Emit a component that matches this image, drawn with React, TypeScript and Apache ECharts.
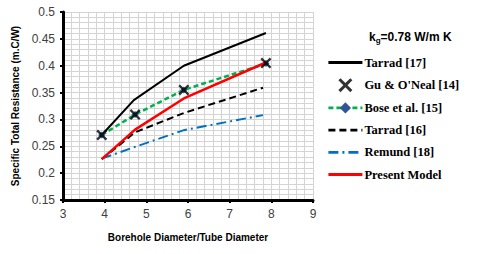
import React, { useEffect, useRef } from "react";
import * as echarts from "echarts";

const xMain = [3.93, 4.73, 5.9, 7.87];
const xTarrad17 = [3.93, 4.7, 5.9, 7.87];
const xShort = [3.93, 4.73, 5.9, 7.8];

const tarrad17 = [0.271, 0.336, 0.4, 0.461];
const guONeal = [0.271, 0.309, 0.355, 0.405];
const bose = [0.271, 0.309, 0.355, 0.404];
const tarrad16 = [0.226, 0.276, 0.312, 0.359];
const remund = [0.227, 0.249, 0.28, 0.308];
const present = [0.226, 0.281, 0.339, 0.406];

const names = ["Tarrad [17]", "Gu & O'Neal [14]", "Bose et al. [15]", "Tarrad [16]", "Remund [18]", "Present Model"];

const pair = (xs: number[], ys: number[]) => xs.map((x, i) => [x, ys[i]]);

const X_PATH =
  "path://M0,1.5L1.5,0L5,3.5L8.5,0L10,1.5L6.5,5L10,8.5L8.5,10L5,6.5L1.5,10L0,8.5L3.5,5Z";

export default function App() {
  const ref = useRef<HTMLDivElement>(null);
  useEffect(() => {
    document.body.style.margin = "0";
    const chart = echarts.init(ref.current!, null, { renderer: "svg" });
    const gridColor = "#d4d4d4";
    const hideSym = { opacity: 0 };
    chart.setOption({
      animation: false,
      backgroundColor: "#ffffff",
      title: {
        text: "k{sub|g}=0.78 W/m K",
        left: 364,
        top: 25,
        textStyle: {
          fontFamily: "Liberation Sans",
          fontWeight: "bold",
          fontSize: 12,
          color: "#000",
          rich: {
            sub: { fontSize: 8, fontWeight: "bold", fontFamily: "Liberation Sans", verticalAlign: "bottom", padding: [6, 0, 0, 0] },
          },
        },
      },
      legend: {
        orient: "vertical",
        left: 327,
        top: 56,
        padding: 0,
        itemWidth: 34,
        itemHeight: 14,
        itemGap: 9.2,
        lineStyle: { width: 2.8 },
        data: [
          { name: names[0], itemStyle: hideSym },
          { name: names[1] },
          { name: names[2] },
          { name: names[3], itemStyle: hideSym },
          { name: names[4], itemStyle: hideSym },
          { name: names[5], itemStyle: hideSym },
        ],
        textStyle: {
          fontFamily: "Liberation Serif, Times New Roman, serif",
          fontWeight: "bold",
          fontSize: 12.5,
          color: "#000",
          padding: [0, 0, 0, -3],
        },
      },
      grid: { left: 63, top: 12, width: 250, height: 188, containLabel: false },
      xAxis: {
        type: "value",
        min: 3,
        max: 9,
        interval: 1,
        name: "Borehole Diameter/Tube Diameter",
        nameLocation: "middle",
        nameGap: 32,
        nameTextStyle: { fontFamily: "Liberation Sans", fontWeight: "bold", fontSize: 10, color: "#000" },
        axisLine: { show: true, onZero: false, lineStyle: { color: "#000", width: 3 } },
        axisTick: { show: true, length: 3, lineStyle: { color: "#000", width: 2 } },
        axisLabel: { fontFamily: "Liberation Sans", fontSize: 12, color: "#404040", margin: 8 },
        splitLine: { show: true, lineStyle: { color: gridColor, width: 1 } },
        minorTick: { show: false, splitNumber: 5 },
        minorSplitLine: { show: true, lineStyle: { color: gridColor, width: 1 } },
      },
      yAxis: {
        type: "value",
        min: 0.15,
        max: 0.5,
        interval: 0.05,
        name: "Specific Total Resistance (m.C/W)",
        nameLocation: "middle",
        nameGap: 43,
        nameTextStyle: { fontFamily: "Liberation Sans", fontWeight: "bold", fontSize: 10, color: "#000" },
        axisLine: { show: true, onZero: false, lineStyle: { color: "#000", width: 3 } },
        axisTick: { show: true, length: 3, lineStyle: { color: "#000", width: 2 } },
        axisLabel: { fontFamily: "Liberation Sans", fontSize: 12, color: "#404040", margin: 8 },
        splitLine: { show: true, lineStyle: { color: gridColor, width: 1 } },
        minorTick: { show: false, splitNumber: 5 },
        minorSplitLine: { show: true, lineStyle: { color: gridColor, width: 1 } },
      },
      series: [
        {
          name: names[0],
          type: "line",
          data: pair(xTarrad17, tarrad17),
          symbol: "none",
          lineStyle: { color: "#000", width: 2 },
          itemStyle: { color: "#000" },
          z: 3,
        },
        {
          name: names[2],
          type: "line",
          data: pair(xMain, bose),
          symbol: "diamond",
          symbolSize: 7,
          lineStyle: { color: "#00b050", width: 2.5, type: [5, 3] },
          itemStyle: { color: "#2f5597" },
          z: 3,
        },
        {
          name: names[3],
          type: "line",
          data: pair(xShort, tarrad16),
          symbol: "none",
          lineStyle: { color: "#000", width: 2, type: [7, 4] },
          itemStyle: { color: "#000" },
          z: 3,
        },
        {
          name: names[4],
          type: "line",
          data: pair(xShort, remund),
          symbol: "none",
          lineStyle: { color: "#0070c0", width: 2, type: [10, 4, 2, 4] },
          itemStyle: { color: "#0070c0" },
          z: 3,
        },
        {
          name: names[5],
          type: "line",
          data: pair(xMain, present),
          symbol: "none",
          lineStyle: { color: "#ff0000", width: 2.5 },
          itemStyle: { color: "#ff0000" },
          z: 4,
        },
        {
          name: names[1],
          type: "scatter",
          data: pair(xMain, guONeal),
          symbol: X_PATH,
          symbolSize: 11,
          itemStyle: { color: "#000" },
          z: 5,
        },
      ],
    });
    return () => chart.dispose();
  }, []);
  return <div ref={ref} style={{ width: 480, height: 254, position: "absolute", left: 0, top: 0 }} />;
}
